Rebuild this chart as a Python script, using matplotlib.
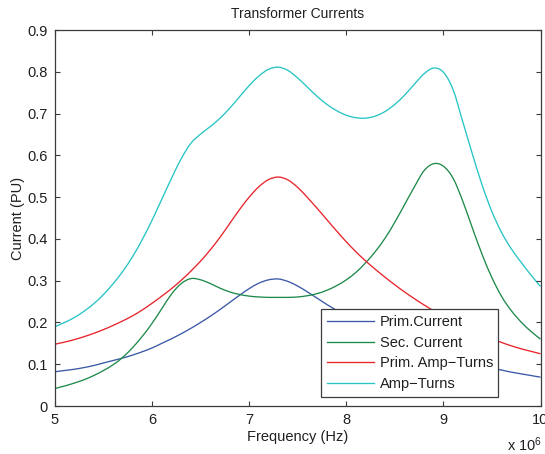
import numpy as np
import matplotlib
matplotlib.use("Agg")
import matplotlib.pyplot as plt
from matplotlib.path import Path
from matplotlib.patches import PathPatch
from matplotlib.lines import Line2D

plt.rcParams['font.family'] = ['Liberation Sans', 'DejaVu Sans']
plt.rcParams['mathtext.default'] = 'regular'

# Frequency grid in units of 1e6 Hz
freq_mhz = np.round(np.arange(5.0, 10.0001, 0.1), 1)

prim_current = [
    0.082, 0.085, 0.088, 0.092, 0.097, 0.103, 0.109, 0.115, 0.122, 0.130,
    0.139, 0.150, 0.161, 0.173, 0.186, 0.200, 0.215, 0.231, 0.248, 0.265,
    0.281, 0.294, 0.302, 0.304, 0.298, 0.287, 0.273, 0.258, 0.243, 0.229,
    0.216, 0.203, 0.191, 0.180, 0.170, 0.160, 0.151, 0.143, 0.135, 0.128,
    0.121, 0.115, 0.109, 0.103, 0.097, 0.091, 0.086, 0.081, 0.077, 0.073,
    0.069,
]

sec_current = [
    0.042, 0.048, 0.055, 0.063, 0.073, 0.085, 0.099, 0.117, 0.140, 0.167,
    0.198, 0.233, 0.268, 0.293, 0.305, 0.302, 0.293, 0.282, 0.273, 0.267,
    0.263, 0.261, 0.260, 0.260, 0.260, 0.261, 0.264, 0.269, 0.277, 0.288,
    0.302, 0.320, 0.343, 0.370, 0.402, 0.440, 0.482, 0.524, 0.563, 0.580,
    0.574, 0.545, 0.490, 0.425, 0.362, 0.307, 0.262, 0.228, 0.201, 0.179,
    0.160,
]

prim_amp_turns = [
    0.148, 0.153, 0.159, 0.166, 0.174, 0.183, 0.193, 0.204, 0.216, 0.230,
    0.246, 0.263, 0.281, 0.301, 0.323, 0.347, 0.374, 0.404, 0.437, 0.470,
    0.500, 0.525, 0.542, 0.548, 0.541, 0.523, 0.499, 0.473, 0.446, 0.419,
    0.393, 0.369, 0.347, 0.327, 0.308, 0.290, 0.273, 0.257, 0.242, 0.228,
    0.215, 0.203, 0.192, 0.181, 0.171, 0.161, 0.152, 0.144, 0.137, 0.131,
    0.125,
]

amp_turns = [
    0.190, 0.200, 0.212, 0.227, 0.245, 0.267, 0.293, 0.323, 0.358, 0.399,
    0.445, 0.495, 0.545, 0.592, 0.629, 0.651, 0.669, 0.689, 0.713, 0.740,
    0.767, 0.790, 0.806, 0.811, 0.803, 0.785, 0.763, 0.741, 0.722, 0.707,
    0.696, 0.690, 0.689, 0.694, 0.705, 0.722, 0.744, 0.770, 0.795, 0.809,
    0.799, 0.757, 0.680, 0.602, 0.528, 0.465, 0.415, 0.376, 0.344, 0.314,
    0.286,
]

series_names = ['Prim.Current', 'Sec. Current', 'Prim. Amp\u2212Turns', 'Amp\u2212Turns']
series_colors = ['#3a58a6', '#1e8a4a', '#e8232b', '#27c4c4']
x_ticks = [5, 6, 7, 8, 9, 10]
y_ticks = [0, 0.1, 0.2, 0.3, 0.4, 0.5, 0.6, 0.7, 0.8, 0.9]


def smooth_path(x, y):
    """Cubic Bezier path passing through every sample (Catmull-Rom tangents)."""
    p = np.column_stack([np.asarray(x, float), np.asarray(y, float)])
    ext = np.vstack([p[0], p, p[-1]])
    verts = [p[0]]
    codes = [Path.MOVETO]
    for i in range(len(p) - 1):
        p0, p1, p2, p3 = ext[i], ext[i + 1], ext[i + 2], ext[i + 3]
        c1 = p1 + (p2 - p0) / 6.0
        c2 = p2 - (p3 - p1) / 6.0
        verts += [c1, c2, p2]
        codes += [Path.CURVE4] * 3
    return Path(np.array(verts), codes)


fig = plt.figure(figsize=(5.45, 4.54), dpi=100, facecolor='white')
ax = fig.add_axes([55 / 545, 48 / 454, 485.5 / 545, 376 / 454])

handles = []
for vals, name, col in zip([prim_current, sec_current, prim_amp_turns, amp_turns],
                           series_names, series_colors):
    patch = PathPatch(smooth_path(freq_mhz, vals), facecolor='none',
                      edgecolor=col, lw=0.95, transform=ax.transData,
                      clip_on=True)
    ax.add_patch(patch)
    handles.append(Line2D([], [], color=col, lw=0.95, label=name))

ax.set_xlim(5, 10)
ax.set_ylim(0, 0.9)
ax.set_xticks(x_ticks)
ax.set_xticklabels([str(t) for t in x_ticks])
ax.set_yticks(y_ticks)
ax.set_yticklabels(['0'] + [f'{t:.1f}' for t in y_ticks[1:]])

axis_col = '#3c3c3c'
for s in ax.spines.values():
    s.set_color(axis_col)
    s.set_linewidth(0.9)
ax.tick_params(direction='in', length=3.8, width=0.8, color=axis_col,
               top=True, right=True, labelsize=10.5, labelcolor='#202020', pad=5)

ax.set_title('Transformer Currents', fontsize=10, color='#202020', pad=9)
ax.set_xlabel('Frequency (Hz)', fontsize=10.5, color='#202020', labelpad=2)
ax.set_ylabel('Current (PU)', fontsize=10.5, color='#202020', labelpad=2)

fig.text(507 / 545, 1 - 445 / 454, 'x 10$^{6}$', fontsize=10.5, color='#202020',
         ha='left', va='center')

leg = ax.legend(handles=handles, loc='lower left',
                bbox_to_anchor=(0.547, 0.023, 0.366, 0.235),
                mode='expand', fontsize=10.5, frameon=True, fancybox=False,
                framealpha=1, edgecolor='#3c3c3c', borderaxespad=0,
                handlelength=3.2, handletextpad=0.4, labelspacing=0.45,
                borderpad=0.45)
leg.get_frame().set_linewidth(0.9)
for t in leg.get_texts():
    t.set_color('#202020')

fig.savefig('out.png', dpi=100, facecolor='white')
